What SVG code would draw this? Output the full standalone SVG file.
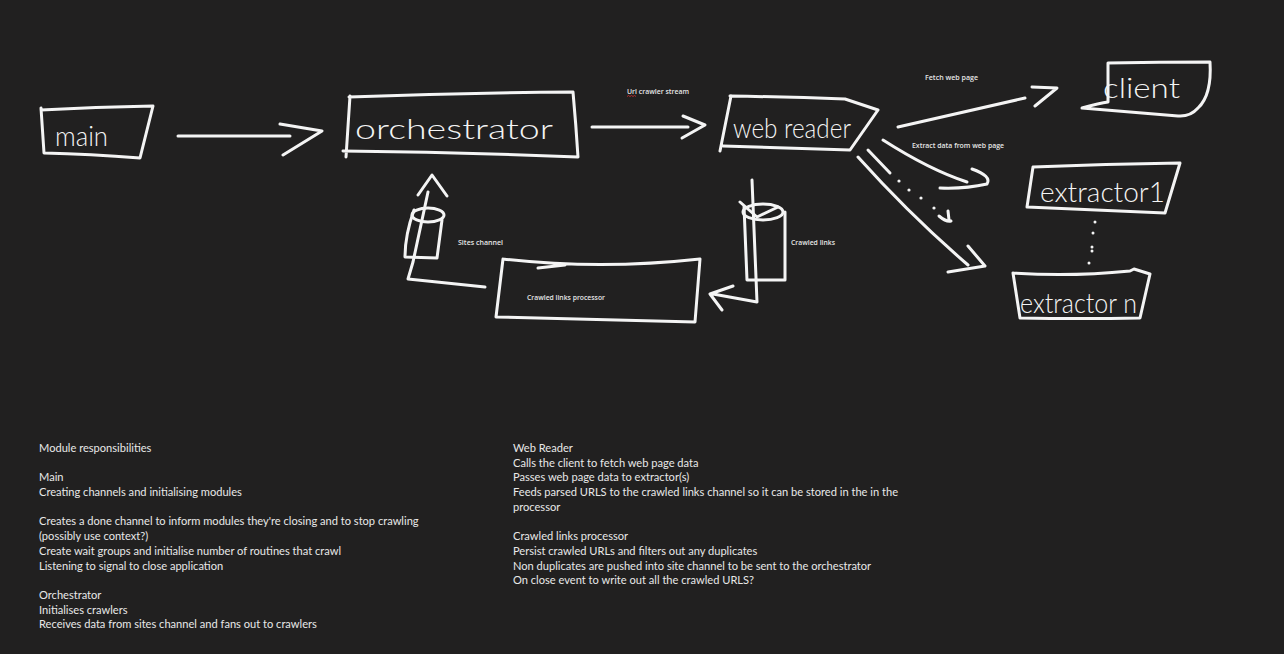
<svg xmlns="http://www.w3.org/2000/svg" width="1284" height="654" viewBox="0 0 1284 654">
<style>
.ink{fill:none;stroke:#f4f4f4;stroke-width:3;stroke-linecap:round;stroke-linejoin:round}
.hand{font-family:Lato,"Liberation Sans",sans-serif;font-weight:300;fill:#f4f4f4;font-size:27px}
.lbl{font-family:"Open Sans","Noto Sans","Liberation Sans",sans-serif;font-weight:600;fill:#e6e6e6;font-size:7.5px}
.body{font-family:Lato,"Open Sans","Liberation Sans",sans-serif;fill:#e8e8e8;font-size:11.1px}
.dot{fill:#f4f4f4}
</style>
<rect width="1284" height="654" fill="#212020"/>

<g id="connectors">
  <path class="ink" d="M178,136 L290,136 M280,124 L322,131 L283,155"/>
  <path class="ink" d="M592,127 L688,127 M683,116 L705,125 L682,138"/>
  <path class="ink" d="M898,127 Q960,113 1025,98 M1032,87 L1057,88 L1035,106"/>
  <path class="ink" d="M883,140 Q930,170 967,182 M972,169 Q992,176 987,184 Q965,189 940,188"/>
  <path class="ink" d="M868,150 L890,173 M939,216 Q946,222 951,221 M948,211 L949,220"/>
  <circle class="dot" cx="899" cy="181" r="1.6"/>
  <circle class="dot" cx="909" cy="190" r="1.6"/>
  <circle class="dot" cx="921" cy="198" r="1.6"/>
  <circle class="dot" cx="934" cy="208" r="1.6"/>
  <path class="ink" d="M858,157 Q910,215 968,265 M968,246 L985,266 L948,272"/>
  <path class="ink" d="M752,180 L757,302 L713,294 M733,286 L710,294 L722,310"/>
  <path class="ink" d="M485,287 L408,279 L413,262 L428,192 M418,195 L432,175 L447,196"/>
  <circle class="dot" cx="1095" cy="222" r="1.5"/>
  <circle class="dot" cx="1093" cy="233" r="1.5"/>
  <circle class="dot" cx="1092" cy="247" r="1.5"/>
  <circle class="dot" cx="1092" cy="251" r="1.5"/>
  <circle class="dot" cx="1089" cy="263" r="1.5"/>
</g>

<g id="main">
  <path class="ink" d="M41,110 Q95,107 153,106 L140,158 Q90,154 44,153 L41,108"/>
  <text class="hand" x="55" y="146" textLength="53" lengthAdjust="spacingAndGlyphs">main</text>
</g>

<g id="orchestrator">
  <path class="ink" d="M349,97 Q460,93 573,92 Q576,125 578,157 Q460,152 343,151 M350,96 L346,157"/>
  <text class="hand" x="355" y="139" textLength="198" lengthAdjust="spacingAndGlyphs">orchestrator</text>
</g>

<g id="web-reader">
  <path class="ink" d="M730,96 Q790,97 845,99 L878,110 L850,150 Q790,148 723,146 M731,96 L720,151"/>
  <text class="hand" x="733" y="138" textLength="118" lengthAdjust="spacingAndGlyphs">web reader</text>
</g>

<g id="client">
  <path class="ink" d="M1108,63 Q1160,62 1210,62 Q1212,95 1198,108 Q1190,117 1178,116 Q1130,112 1082,108 Q1100,103 1108,102 L1108,63"/>
  <text class="hand" x="1103" y="98" textLength="77" lengthAdjust="spacingAndGlyphs">client</text>
</g>

<g id="extractor1">
  <path class="ink" d="M1033,167 Q1105,164 1180,163 L1165,213 Q1095,210 1027,207 L1033,167"/>
  <text class="hand" x="1040" y="202" textLength="125" lengthAdjust="spacingAndGlyphs">extractor1</text>
</g>

<g id="extractor-n">
  <path class="ink" d="M1013,273 Q1070,277 1130,271 L1134,269 L1150,274 L1140,318 Q1080,319 1020,318 L1013,273"/>
  <text class="hand" x="1020" y="313" font-size="26" textLength="117" lengthAdjust="spacingAndGlyphs">extractor n</text>
</g>

<g id="crawled-links">
  <ellipse class="ink" cx="763" cy="212" rx="20" ry="8"/>
  <path class="ink" d="M744,206 L747,280 L785,280 L785,212 M740,202 L757,217 L778,207"/>
  <text class="lbl" x="791" y="245" textLength="44" lengthAdjust="spacingAndGlyphs">Crawled links</text>
</g>

<g id="sites-channel">
  <ellipse class="ink" cx="428" cy="215" rx="16" ry="7"/>
  <path class="ink" d="M414,210 Q405,235 405,257 L437,258 L442,220"/>
  <text class="lbl" x="458" y="245" textLength="45" lengthAdjust="spacingAndGlyphs">Sites channel</text>
</g>

<g id="crawled-links-processor">
  <path class="ink" d="M503,259 Q600,270 700,259 L695,322 L496,317 L503,259 M538,268 L565,265"/>
  <text class="lbl" x="527" y="300" textLength="78" lengthAdjust="spacingAndGlyphs">Crawled links processor</text>
</g>

<g id="labels">
  <text class="lbl" x="627" y="94" textLength="62" lengthAdjust="spacingAndGlyphs">Url crawler stream</text>
  <path d="M627,96.5 l1.5,-1 l1.5,1 l1.5,-1 l1.5,1 l1.5,-1 l1.5,1" fill="none" stroke="#d03030" stroke-width="0.8"/>
  <text class="lbl" x="925" y="80" textLength="53" lengthAdjust="spacingAndGlyphs">Fetch web page</text>
  <text class="lbl" x="912" y="148" textLength="92" lengthAdjust="spacingAndGlyphs">Extract data from web page</text>
</g>

<g id="notes-left" class="body">
  <text x="39" y="452">Module responsibilities</text>
  <text x="39" y="481">Main</text>
  <text x="39" y="496">Creating channels and initialising modules</text>
  <text x="39" y="525">Creates a done channel to inform modules they're closing and to stop crawling</text>
  <text x="39" y="540">(possibly use context?)</text>
  <text x="39" y="555">Create wait groups and initialise number of routines that crawl</text>
  <text x="39" y="570">Listening to signal to close application</text>
  <text x="39" y="599">Orchestrator</text>
  <text x="39" y="614">Initialises crawlers</text>
  <text x="39" y="628">Receives data from sites channel and fans out to crawlers</text>
</g>

<g id="notes-right" class="body">
  <text x="513" y="452">Web Reader</text>
  <text x="513" y="467">Calls the client to fetch web page data</text>
  <text x="513" y="481">Passes web page data to extractor(s)</text>
  <text x="513" y="496">Feeds parsed URLS to the crawled links channel so it can be stored in the in the</text>
  <text x="513" y="511">processor</text>
  <text x="513" y="540">Crawled links processor</text>
  <text x="513" y="555">Persist crawled URLs and filters out any duplicates</text>
  <text x="513" y="570">Non duplicates are pushed into site channel to be sent to the orchestrator</text>
  <text x="513" y="584">On close event to write out all the crawled URLS?</text>
</g>
</svg>
